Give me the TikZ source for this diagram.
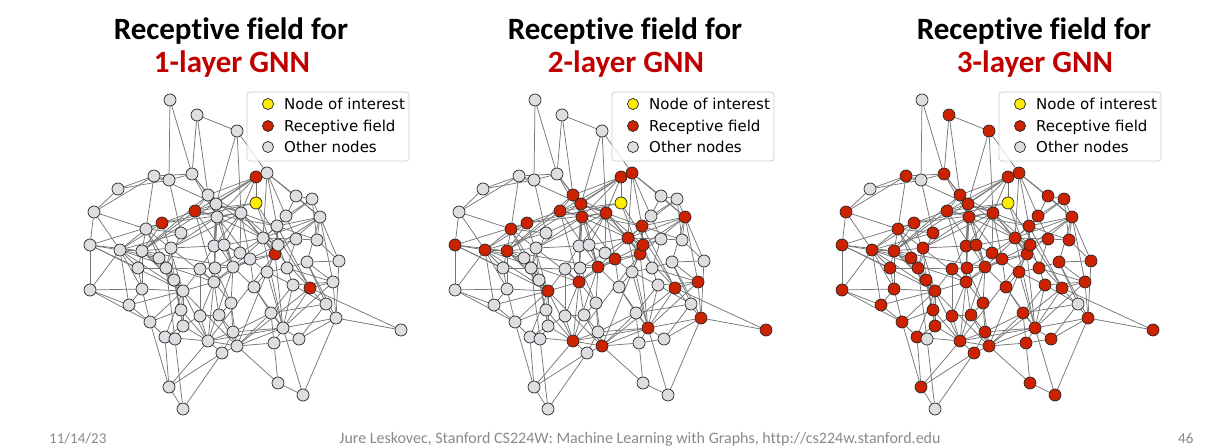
\documentclass[tikz,border=0pt]{standalone}
\usepackage{fontspec}
\setmainfont{Carlito}[Ligatures=NoCommon]
\newfontfamily\legendfont{DejaVu Sans}
\usetikzlibrary{backgrounds}
\definecolor{titlered}{RGB}{192,0,0}
\definecolor{fieldred}{RGB}{204,34,0}
\definecolor{focusyellow}{RGB}{255,236,0}
\definecolor{othergray}{RGB}{222,222,226}
\definecolor{linkgray}{RGB}{118,118,118}
\definecolor{footgray}{RGB}{137,137,137}
\tikzstyle{vertex}=[draw=black!85,circle,minimum size=12pt,inner sep=0pt,line width=0.7pt]
\tikzstyle{interest}=[fill=focusyellow]
\tikzstyle{receptive}=[fill=fieldred]
\tikzstyle{othernode}=[fill=othergray]
\tikzstyle{link}=[draw=linkgray,line width=0.75pt]

% name/x/y/hops from the node of interest
\def\graphnodes{1/170/100/4, 2/197/115/3, 3/237/131/3, 4/154/176/3, 5/169/180/4,
6/192/174/3, 7/118/189/4, 8/208/195/2, 9/216/204/2, 10/256/177/1, 11/256/203/0,
12/195/211/1, 13/162/223/1, 14/94/212/3, 15/146/229/2, 16/217/217/2, 17/241/213/2,
18/181/233/3, 19/90/245/2, 20/120/250/2, 21/171/248/3, 22/214/246/3, 23/224/245/3,
24/267/173/2, 25/296/196/3, 26/312/199/3, 28/286/216/3, 29/320/217/2, 30/277/226/2,
31/263/238/2, 32/296/239/3, 33/317/240/3, 34/275/254/1, 35/278/245/2, 36/142/251/2,
37/159/258/3, 38/240/253/3, 39/250/259/2, 40/138/268/3, 41/166/268/3, 42/200/269/3,
43/215/268/3, 44/233/267/2, 45/174/280/3, 46/214/282/2, 47/90/290/3, 48/142/289/3,
49/183/291/2, 50/254/287/3, 51/129/305/3, 52/231/303/3, 53/181/310/3, 54/200/316/3,
55/219/315/3, 56/150/322/3, 57/183/326/3, 58/233/332/3, 59/165/337/3, 60/175/339/4,
61/208/341/2, 62/237/346/2, 63/222/353/3, 64/169/387/3, 65/183/409/4, 66/267/272/3,
67/287/268/3, 68/307/262/3, 69/339/261/3, 70/293/285/3, 71/310/288/1, 72/333/282/2,
73/326/304/4, 74/271/313/3, 75/336/318/2, 76/401/330/2, 77/283/328/2, 78/299/339/3,
79/274/343/3, 80/278/383/3, 81/303/395/3}

\def\graphedges{11/10, 11/12, 11/13, 11/34, 11/71,
10/8, 10/9, 10/17, 10/24, 10/36, 10/12, 10/16,
12/8, 12/9, 12/16, 12/36, 12/46, 12/13, 12/44, 12/30,
13/15, 13/19, 13/20, 13/36, 13/49, 13/17,
34/30, 34/31, 34/35, 34/39, 34/44, 34/61, 34/29, 34/77, 34/17,
71/72, 71/75, 71/76, 71/77, 71/62, 71/31, 71/30,
8/9, 8/16, 9/17, 15/36, 15/20, 16/17, 16/46, 17/39, 19/20, 20/36, 24/30, 29/30,
30/31, 31/35, 35/39, 36/49, 39/44, 44/46, 46/49, 46/61, 49/61, 61/62, 62/77, 72/75,
75/76, 29/72, 29/35, 24/29, 9/44, 15/49, 31/77, 8/31, 9/46, 16/35, 17/31, 30/44,
20/49, 19/36, 8/36, 9/30, 16/44, 17/35, 15/46, 19/49, 20/46, 24/31, 29/31, 36/44,
39/46, 44/61, 49/62, 61/77, 62/35, 75/77, 72/77, 30/35, 8/17, 16/39,
2/8, 2/3, 3/24, 3/17, 4/9, 4/7, 4/6, 4/14, 4/5, 6/1, 6/8, 6/16, 14/15, 14/19, 14/7,
18/16, 18/15, 18/20, 18/5, 18/41, 21/36, 21/16, 21/17, 21/45, 22/17, 22/16, 22/9,
22/43, 23/17, 23/44, 23/39, 23/38, 25/29, 25/24, 25/26, 26/29, 26/30, 26/28, 28/30,
28/24, 28/32, 32/35, 32/31, 32/33, 33/29, 33/30, 33/69, 37/36, 37/20, 37/15, 37/41,
38/39, 38/17, 38/43, 40/20, 40/36, 40/48, 40/19, 41/36, 41/49, 41/45, 42/46, 42/49,
42/43, 43/44, 43/46, 45/49, 45/36, 45/53, 47/19, 47/51, 47/48, 47/20, 48/49, 48/20,
48/36, 48/51, 50/39, 50/77, 50/44, 50/66, 51/20, 51/49, 51/56, 52/44, 52/46, 52/62,
52/58, 53/49, 53/61, 53/56, 54/46, 54/61, 54/57, 55/46, 55/62, 55/58, 56/49, 56/59,
56/64, 57/49, 57/61, 57/59, 58/62, 58/61, 58/77, 59/61, 59/49, 63/62, 63/61, 63/64,
64/61, 64/65, 66/35, 66/39, 66/77, 66/67, 67/35, 67/72, 67/70, 68/72, 68/29, 68/75,
68/69, 69/75, 69/29, 70/77, 70/72, 70/74, 74/77, 74/62, 74/79, 78/77, 78/75, 78/79,
79/77, 79/62, 79/80, 80/62, 80/81, 81/77, 81/75,
6/9, 21/22, 22/42, 23/31, 38/31, 42/54, 43/52, 45/57, 48/56, 53/57, 54/55, 55/52,
58/63, 59/64, 41/42, 21/41, 26/33, 25/28, 32/67, 66/70, 50/74, 58/74, 67/68, 3/9,
14/20, 40/41, 47/56, 2/6, 4/15,
1/5, 5/7, 5/6, 60/65, 60/59, 60/41, 60/57, 65/63, 73/68, 73/70, 73/78, 73/74}

\begin{document}
\begin{tikzpicture}[x=1pt,y=-1pt]
\tikzstyle{headline}=[anchor=base,inner sep=0pt,font=\fontsize{31}{37}\selectfont\bfseries]
\tikzstyle{legendbox}=[draw=black!20,fill=white,fill opacity=0.8,rounded corners=3pt,line width=0.8pt,minimum width=162pt,minimum height=69pt,inner sep=0pt]
\tikzstyle{keytext}=[anchor=base west,inner sep=0pt,font={\legendfont\fontsize{15}{18}\selectfont}]
\tikzstyle{footer}=[inner sep=0pt,text=footgray,font=\fontsize{15}{18}\selectfont]
\useasboundingbox (0,0) rectangle (1222,446);

\foreach \pan/\dx/\tx in {1/0/231, 2/365/625, 3/752/1034} {
  \node[headline] (p\pan-title) at (\tx,40) {Receptive field for};
  \node[headline,text=titlered] (p\pan-layers) at (\tx+1,73) {\pan-layer GNN};
  % nodes, coloured by hop count
  \foreach \i/\x/\y/\h in \graphnodes {
    \ifnum\h=0 \def\col{interest}\else\ifnum\h>\pan\relax\def\col{othernode}\else\def\col{receptive}\fi\fi
    \node[vertex,\col] (p\pan-\i) at (\x+\dx,\y) {};
  }
  \begin{pgfonlayer}{background}
    \foreach \u/\v in \graphedges
      \draw[link] (p\pan-\u) -- (p\pan-\v);
  \end{pgfonlayer}
  % legend
  \node[legendbox] (p\pan-key) at (328+\dx,126.5) {};
  \node[vertex,interest,minimum size=11pt] (p\pan-k1) at (268+\dx,104) {};
  \node[vertex,receptive,minimum size=11pt] (p\pan-k2) at (268+\dx,126) {};
  \node[vertex,othernode,minimum size=11pt] (p\pan-k3) at (268+\dx,147) {};
  \node[keytext] (p\pan-t1) at (284+\dx,109.5) {Node of interest};
  \node[keytext] (p\pan-t2) at (284+\dx,131.5) {Receptive field};
  \node[keytext] (p\pan-t3) at (284+\dx,152.5) {Other nodes};
}

\node[footer,anchor=base west] (date) at (49,443) {11/14/23};
\node[footer,anchor=base,font=\fontsize{16}{19}\selectfont] (credit) at (640,443) {Jure Leskovec, Stanford CS224W: Machine Learning with Graphs, http://cs224w.stanford.edu};
\node[footer,anchor=base west] (page) at (1178,443) {46};
\end{tikzpicture}
\end{document}
